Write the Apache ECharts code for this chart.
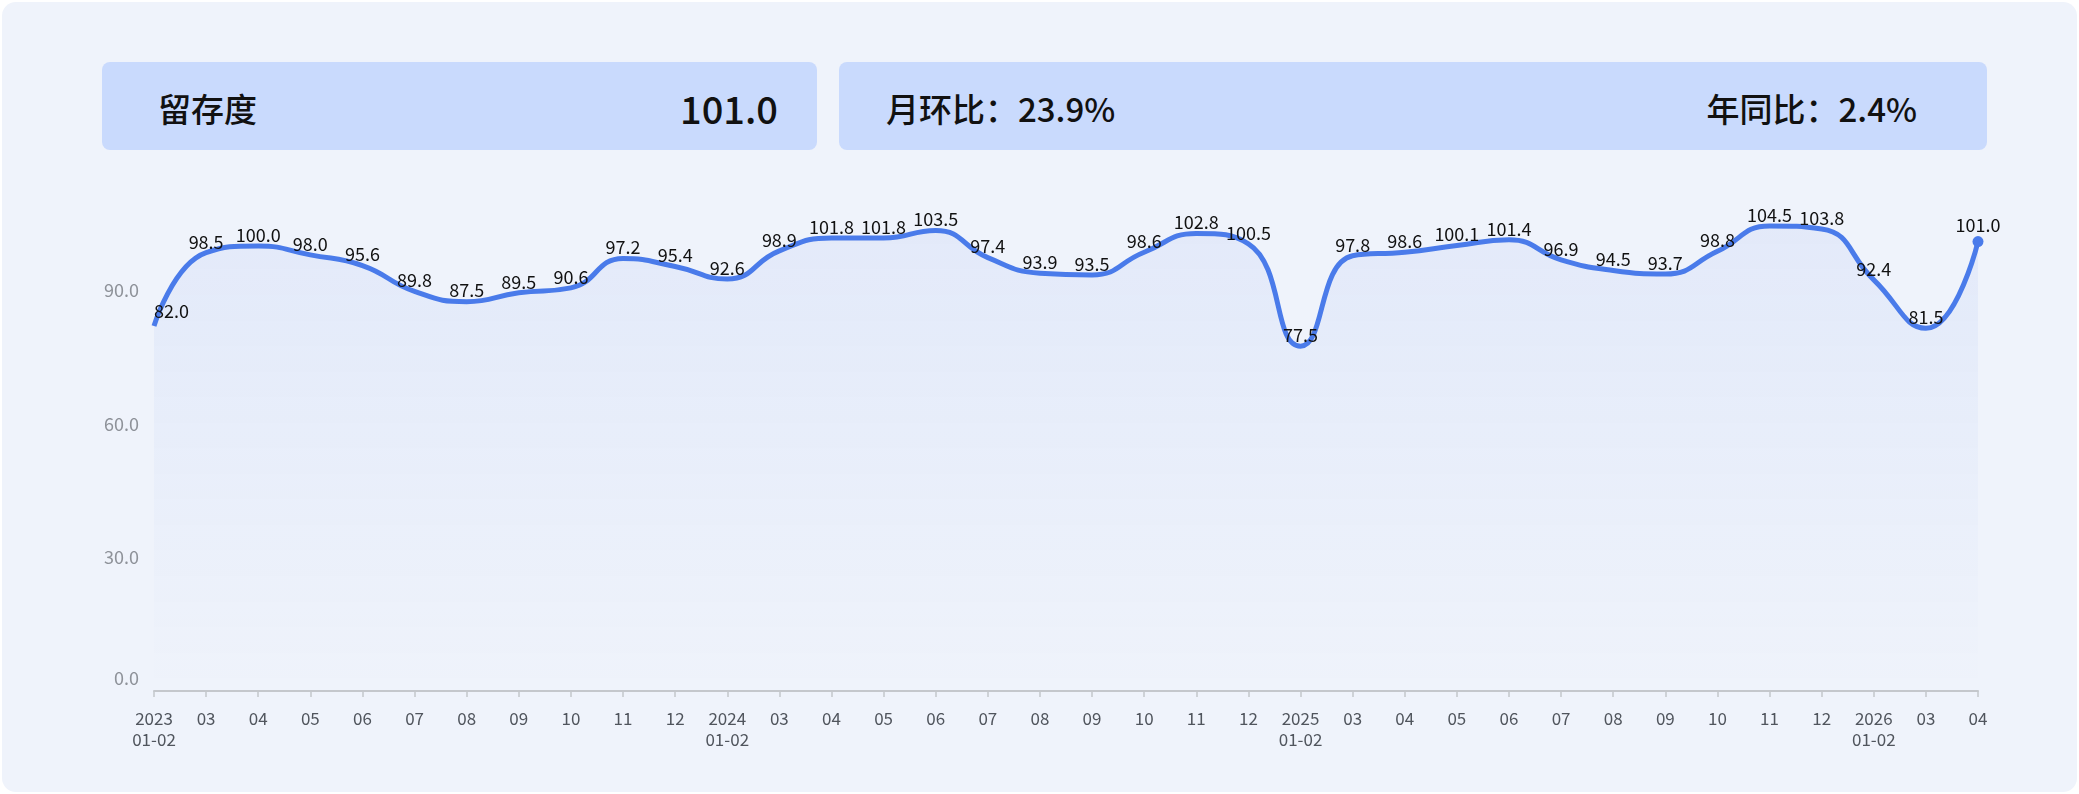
<!DOCTYPE html>
<html>
<head>
<meta charset="utf-8">
<script src="https://cdn.jsdelivr.net/npm/echarts@6/dist/echarts.min.js"></script>
<style>
  html, body { margin: 0; padding: 0; background: #ffffff; }
  body { width: 2079px; height: 794px; position: relative; overflow: hidden;
    font-family: "Noto Sans CJK SC", "Noto Sans", sans-serif; }
  .card { position: absolute; left: 2px; top: 2px; width: 2075px; height: 790px;
    background: #eff3fb; border-radius: 14px; }
  .box { position: absolute; top: 62px; height: 88px; background: #c9dafd; border-radius: 8px; }
  .txt { position: absolute; top: 0; height: 88px; line-height: 92px; color: #111;
    font-weight: 500; white-space: nowrap; }
  #chart { position: absolute; left: 0; top: 0; width: 2079px; height: 794px; }
</style>
</head>
<body>
<div class="card"></div>
<div class="box" style="left:102px;width:715px;">
  <span class="txt" id="kpiName" style="left:56px;font-size:33px;"></span>
  <span class="txt" id="kpiValue" style="right:39px;font-size:38px;"></span>
</div>
<div class="box" style="left:839px;width:1148px;">
  <span class="txt" id="momText" style="left:47px;font-size:33px;"></span>
  <span class="txt" id="yoyText" style="right:70px;font-size:33px;"></span>
</div>
<div id="chart"></div>
<script>
const kpiName = '留存度';
const kpiValue = '101.0';
const momText = '月环比：23.9%';
const yoyText = '年同比：2.4%';

const months = [
  '2023\n01-02', '03', '04', '05', '06', '07', '08', '09', '10', '11', '12',
  '2024\n01-02', '03', '04', '05', '06', '07', '08', '09', '10', '11', '12',
  '2025\n01-02', '03', '04', '05', '06', '07', '08', '09', '10', '11', '12',
  '2026\n01-02', '03', '04'
];
const retention = [
  82.0, 98.5, 100.0, 98.0, 95.6, 89.8, 87.5, 89.5, 90.6, 97.2, 95.4,
  92.6, 98.9, 101.8, 101.8, 103.5, 97.4, 93.9, 93.5, 98.6, 102.8, 100.5,
  77.5, 97.8, 98.6, 100.1, 101.4, 96.9, 94.5, 93.7, 98.8, 104.5, 103.8,
  92.4, 81.5, 101.0
];

document.getElementById('kpiName').textContent = kpiName;
document.getElementById('kpiValue').textContent = kpiValue;
document.getElementById('momText').textContent = momText;
document.getElementById('yoyText').textContent = yoyText;

const font = '"Noto Sans CJK SC", "Noto Sans", sans-serif';
const lastIdx = retention.length - 1;

const seriesData = retention.map((v, i) => {
  if (i === 0) {
    return { value: v, label: { align: 'left', offset: [0, -4] } };
  }
  return v;
});

const yLabelStyle = { color: '#8e9299', fontSize: 18, fontFamily: font };

const chart = echarts.init(document.getElementById('chart'), null, { renderer: 'canvas' });
chart.setOption({
  animation: false,
  backgroundColor: 'transparent',
  grid: { left: 154, right: 101, top: 157, bottom: 103 },
  xAxis: {
    type: 'category',
    boundaryGap: false,
    data: months,
    axisLine: { lineStyle: { color: '#c4c7cc', width: 2 } },
    axisTick: { show: true, length: 6, lineStyle: { color: '#c4c7cc', width: 1.5 } },
    axisLabel: {
      interval: 0,
      margin: 17,
      color: '#50555d',
      fontSize: 17,
      lineHeight: 21,
      fontFamily: font
    }
  },
  yAxis: {
    type: 'value',
    min: 0,
    max: 120,
    interval: 30,
    splitLine: { show: false },
    axisLine: { show: false },
    axisTick: { show: false },
    axisLabel: {
      showMaxLabel: false,
      margin: 15,
      ...yLabelStyle,
      // the zero label sits a little above the x axis line
      formatter: (v) => (v === 0 ? '{z|0.0}' : v.toFixed(1)),
      rich: {
        z: { ...yLabelStyle, padding: [0, 0, 25, 0] }
      }
    }
  },
  series: [{
    type: 'line',
    data: seriesData,
    smooth: true,
    symbol: 'circle',
    symbolSize: (val, params) => (params.dataIndex === lastIdx ? 11 : 0),
    lineStyle: { color: '#4a7bea', width: 5 },
    itemStyle: { color: '#4a7bea' },
    areaStyle: {
      color: new echarts.graphic.LinearGradient(0, 0, 0, 1, [
        { offset: 0, color: 'rgba(74,123,234,0.1)' },
        { offset: 1, color: 'rgba(74,123,234,0.0)' }
      ])
    },
    label: {
      show: true,
      position: 'top',
      distance: 2,
      color: '#111111',
      fontSize: 18,
      fontFamily: font,
      formatter: (p) => Number(p.value).toFixed(1)
    }
  }]
});
</script>
</body>
</html>
